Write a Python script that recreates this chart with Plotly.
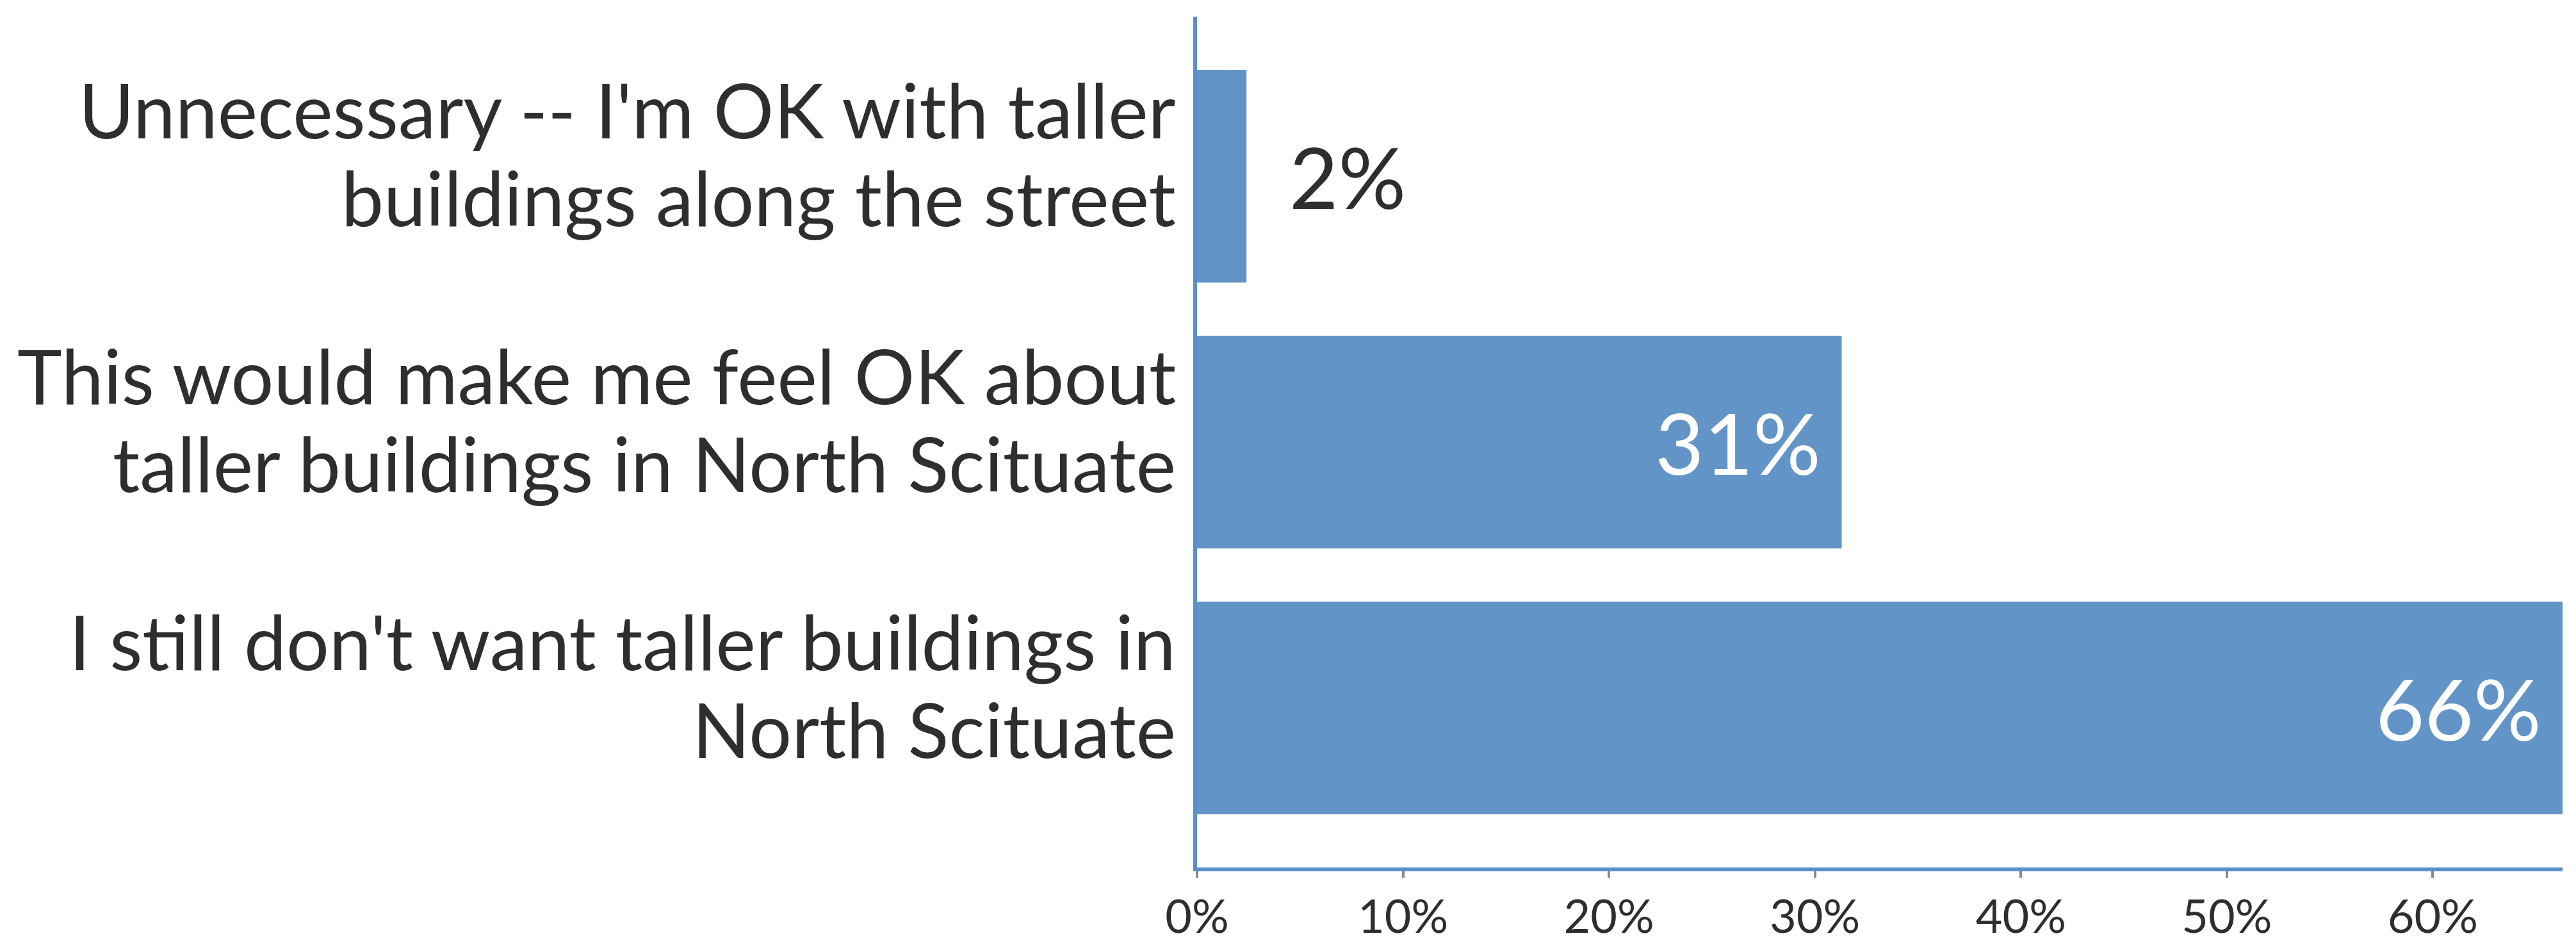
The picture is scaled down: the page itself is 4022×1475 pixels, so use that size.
import plotly.graph_objects as go

# ---- data ----
categories = [
    "Unnecessary -- I'm OK with taller buildings along the street",
    "This would make me feel OK about taller buildings in North Scituate",
    "I still don't want taller buildings in North Scituate",
]
label_line1 = [
    "Unnecessary -- I'm OK with taller",
    "This would make me feel OK about",
    "I still don't want taller buildings in",
]
label_line2 = [
    "buildings along the street",
    "taller buildings in North Scituate",
    "North Scituate",
]
values = [2.4, 31.3, 66.3]
value_labels = ["2%", "31%", "66%"]
tick_vals = [0, 10, 20, 30, 40, 50, 60]
tick_text = ["0%", "10%", "20%", "30%", "40%", "50%", "60%"]

# ---- style ----
FONT = "Lato"
BAR_COLOR = "#6394C7"
AXIS_COLOR = "#5B8FC9"
TEXT_COLOR = "#2E2E2E"
CAT_SIZE = 118
VAL_SIZE = 132
TICK_SIZE = 72

fig = go.Figure()
fig.add_trace(go.Bar(
    x=values, y=categories, orientation="h",
    marker=dict(color=BAR_COLOR, line=dict(width=0)),
    width=0.8, hoverinfo="skip",
))

annotations = []
for i, cat in enumerate(categories):
    annotations.append(dict(
        x=0, xref="paper", y=cat, yref="y", text=label_line1[i],
        xanchor="right", yanchor="middle", xshift=-31, yshift=105,
        showarrow=False, font=dict(family=FONT, size=CAT_SIZE, color=TEXT_COLOR),
    ))
    annotations.append(dict(
        x=0, xref="paper", y=cat, yref="y", text=label_line2[i],
        xanchor="right", yanchor="middle", xshift=-31, yshift=-32,
        showarrow=False, font=dict(family=FONT, size=CAT_SIZE, color=TEXT_COLOR),
    ))
    inside = values[i] >= 10
    annotations.append(dict(
        x=values[i], xref="x", y=cat, yref="y", text=value_labels[i],
        xanchor="right" if inside else "left", yanchor="middle",
        xshift=-31 if inside else 65, yshift=0,
        showarrow=False,
        font=dict(family=FONT, size=VAL_SIZE, color="white" if inside else TEXT_COLOR),
    ))

fig.update_layout(
    width=4022, height=1475,
    margin=dict(l=1861, r=29, t=18, b=97),
    paper_bgcolor="white", plot_bgcolor="white",
    showlegend=False,
    annotations=annotations,
    xaxis=dict(
        range=[0, 66.3], tickvals=tick_vals, ticktext=tick_text,
        showgrid=False, zeroline=False,
        showline=True, linecolor=AXIS_COLOR, linewidth=6,
        ticks="outside", ticklen=10, tickwidth=4, tickcolor="#8A8A8A",
        tickfont=dict(family=FONT, size=TICK_SIZE, color=TEXT_COLOR),
        fixedrange=True,
    ),
    yaxis=dict(
        categoryorder="array", categoryarray=categories,
        range=[2.6, -0.6],
        showticklabels=False, showgrid=False, zeroline=False,
        showline=True, linecolor=AXIS_COLOR, linewidth=6,
        ticks="", fixedrange=True,
    ),
)

fig.write_html("out.html")
